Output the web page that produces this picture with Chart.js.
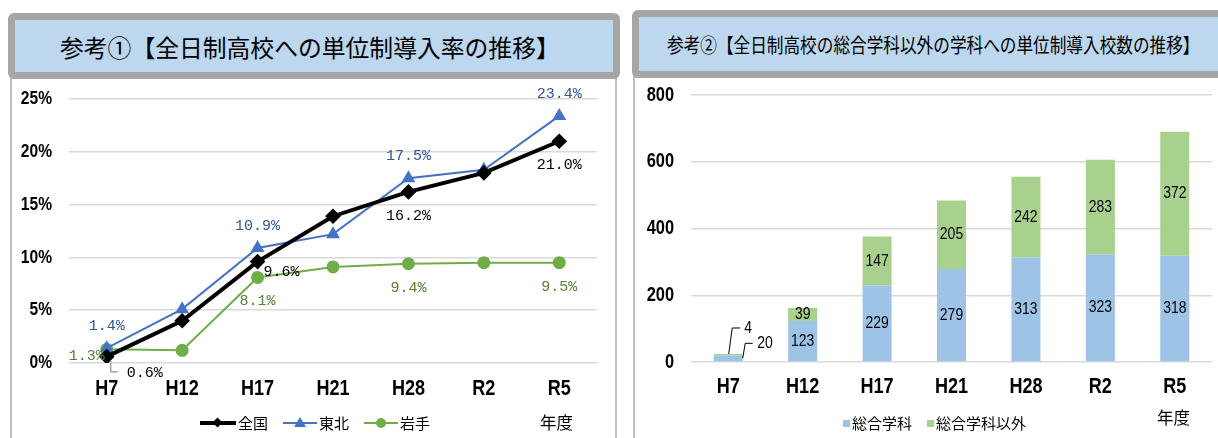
<!DOCTYPE html>
<html lang="ja">
<head>
<meta charset="utf-8">
<title>単位制導入の推移</title>
<script src="https://cdn.jsdelivr.net/npm/chart.js@4/dist/chart.umd.min.js"></script>
<style>
  body { margin: 0; width: 1218px; height: 438px; overflow: hidden; background: #fff; font-family: 'Noto Sans CJK JP', sans-serif; }
  .frame { position: absolute; background: #bdd7ee; border: 7px solid #a6a6a6; border-radius: 6px; box-sizing: border-box; }
  .title { position: absolute; white-space: nowrap; color: #000; }
  .box { position: absolute; border: 2px solid #bfbfbf; border-bottom: none; box-sizing: border-box; }
  .chart-wrap { position: absolute; }
  .lg { position: absolute; font-size: 15px; line-height: 18px; white-space: nowrap; }
  .lg-line { position: absolute; }
  .lg-mark { position: absolute; }
</style>
</head>
<body>

<div class="box" style="left:10px; top:76px; width:607px; height:370px;"></div>
<div class="box" style="left:633px; top:76px; width:600px; height:370px;"></div>

<div class="frame" style="left:8px; top:13px; width:612px; height:66px;"></div>
<div class="title" style="left:60px; top:31px; font-size:23.8px; line-height:32px;">参考①【全日制高校への単位制導入率の推移】</div>

<div class="frame" style="left:632px; top:10px; width:600px; height:68px;"></div>
<div class="title" style="left:667px; top:31px; font-size:20px; line-height:28px; transform:scaleX(0.832); transform-origin:left center;">参考②【全日制高校の総合学科以外の学科への単位制導入校数の推移】</div>

<div class="chart-wrap" style="left:12px; top:80px; width:603px; height:358px;"><canvas id="rateChart"></canvas></div>
<div class="chart-wrap" style="left:635px; top:80px; width:583px; height:358px;"><canvas id="countChart"></canvas></div>

<!-- legend, left chart -->
<div class="lg-line" style="left:200px; top:421px; width:36px; height:4px; background:#000;"></div>
<div class="lg-mark" style="left:214px; top:419px; width:7px; height:7px; background:#000; transform:rotate(45deg);"></div>
<div class="lg" style="left:238px; top:414px;">全国</div>
<div class="lg-line" style="left:283px; top:422px; width:34px; height:2px; background:#4472c4;"></div>
<div class="lg-mark" style="left:294px; top:417px; width:0; height:0; border-left:6px solid transparent; border-right:6px solid transparent; border-bottom:10px solid #4472c4;"></div>
<div class="lg" style="left:319px; top:414px;">東北</div>
<div class="lg-line" style="left:364px; top:422px; width:34px; height:2px; background:#70ad47;"></div>
<div class="lg-mark" style="left:376px; top:418px; width:10px; height:10px; border-radius:50%; background:#70ad47;"></div>
<div class="lg" style="left:400px; top:414px;">岩手</div>
<div class="lg" style="left:540px; top:413px; font-size:16.5px;">年度</div>

<!-- legend, right chart -->
<div class="lg-mark" style="left:843px; top:420px; width:7px; height:7px; background:#9dc3e6;"></div>
<div class="lg" style="left:852px; top:414px;">総合学科</div>
<div class="lg-mark" style="left:927px; top:420px; width:7px; height:7px; background:#a9d18e;"></div>
<div class="lg" style="left:936px; top:414px;">総合学科以外</div>
<div class="lg" style="left:1157px; top:408px; font-size:16.5px;">年度</div>

<script>
// 年度
const years = ['H7', 'H12', 'H17', 'H21', 'H28', 'R2', 'R5'];

// 単位制導入率（%）
const zenkoku = [0.6, 4.0, 9.6, 13.9, 16.2, 18.0, 21.0];
const tohoku = [1.4, 5.1, 10.9, 12.2, 17.5, 18.3, 23.4];
const iwate = [1.3, 1.2, 8.1, 9.1, 9.4, 9.5, 9.5];
const rateTicks = [0, 5, 10, 15, 20, 25];

// 導入校数
const sogo = [20, 123, 229, 279, 313, 323, 318];
const sogoIgai = [4, 39, 147, 205, 242, 283, 372];
const countTicks = [0, 200, 400, 600, 800];

const baseFont = "'Liberation Sans', Arial, sans-serif";
const narrow = 0.82; // no narrow face installed, so squeeze Arial-metric text
const gridColor = '#d9d9d9';

function narrowText(ctx, text, x, y) {
    ctx.save();
    ctx.translate(x, y);
    ctx.scale(narrow, 1);
    ctx.fillText(text, 0, 0);
    ctx.restore();
}

// axis labels drawn by hand so they can be condensed
function narrowTicks(opts) {
    return {
        id: 'narrowTicks',
        beforeDatasetsDraw(chart) {
            const ctx = chart.ctx;
            const area = chart.chartArea;
            const xs = chart.scales.x;
            const ys = chart.scales.y;
            ctx.save();
            ctx.fillStyle = '#000';
            ctx.textBaseline = 'middle';
            ctx.font = 'bold ' + opts.xSize + 'px ' + baseFont;
            ctx.textAlign = 'center';
            chart.data.labels.forEach((lab, i) => {
                narrowText(ctx, lab, xs.getPixelForTick(i), area.bottom + opts.xOffset);
            });
            ctx.font = 'bold ' + opts.ySize + 'px ' + baseFont;
            ctx.textAlign = 'right';
            ys.ticks.forEach(t => {
                narrowText(ctx, opts.yFormat(t.value), area.left - opts.yPad, ys.getPixelForValue(t.value));
            });
            ctx.restore();
        }
    };
}

// which points get a value label, and where
const lineLabelPos = [
    { 0: 'leader', 2: 'right', 4: 'below', 6: 'below' },
    { 0: 'above', 2: 'above', 4: 'above', 6: 'above' },
    { 0: 'left', 2: 'below', 4: 'below', 6: 'below' }
];
const labelOffset = {
    above: [0, -22], below: [0, 24], right: [24, 10], left: [-20, 7], leader: [38, 16]
};
const lineLabelColors = ['#000000', '#2f5597', '#548235'];

const lineLabels = {
    id: 'lineLabels',
    afterDatasetsDraw(chart) {
        const ctx = chart.ctx;
        ctx.save();
        ctx.font = "15px 'Liberation Mono', 'DejaVu Sans Mono', monospace";
        ctx.textAlign = 'center';
        ctx.textBaseline = 'middle';
        chart.data.datasets.forEach((ds, i) => {
            const meta = chart.getDatasetMeta(i);
            Object.entries(lineLabelPos[i]).forEach(([idx, pos]) => {
                const pt = meta.data[idx];
                const [dx, dy] = labelOffset[pos];
                if (pos === 'leader') {
                    ctx.strokeStyle = '#a6a6a6';
                    ctx.lineWidth = 1.5;
                    ctx.beginPath();
                    ctx.moveTo(pt.x + 4, pt.y + 4);
                    ctx.lineTo(pt.x + 4, pt.y + 15);
                    ctx.lineTo(pt.x + 11, pt.y + 15);
                    ctx.stroke();
                }
                ctx.fillStyle = lineLabelColors[i];
                ctx.fillText(ds.data[idx].toFixed(1) + '%', pt.x + dx, pt.y + dy);
            });
        });
        ctx.restore();
    }
};

new Chart(document.getElementById('rateChart').getContext('2d'), {
    type: 'line',
    data: {
        labels: years,
        datasets: [{
            label: '全国',
            data: zenkoku,
            borderColor: '#000000',
            backgroundColor: '#000000',
            borderWidth: 4,
            pointStyle: 'rectRot',
            pointRadius: 5,
            order: 0
        }, {
            label: '東北',
            data: tohoku,
            borderColor: '#4472c4',
            backgroundColor: '#4472c4',
            borderWidth: 2,
            pointStyle: 'triangle',
            pointRadius: 6,
            order: 1
        }, {
            label: '岩手',
            data: iwate,
            borderColor: '#70ad47',
            backgroundColor: '#70ad47',
            borderWidth: 2,
            pointStyle: 'circle',
            pointRadius: 5.5,
            order: 2
        }]
    },
    options: {
        responsive: true,
        maintainAspectRatio: false,
        animation: false,
        layout: { padding: { top: 19, right: 18, left: 0, bottom: 0 } },
        plugins: { legend: { display: false }, tooltip: { enabled: false } },
        scales: {
            x: {
                offset: true,
                grid: { display: false },
                border: { display: false },
                ticks: { display: false },
                afterFit: s => { s.height = 75; }
            },
            y: {
                min: 0,
                max: 25,
                afterBuildTicks: s => { s.ticks = rateTicks.map(v => ({ value: v })); },
                grid: { color: gridColor, lineWidth: 1.5, drawTicks: false },
                border: { display: false },
                ticks: { display: false },
                afterFit: s => { s.width = 57; }
            }
        }
    },
    plugins: [lineLabels, narrowTicks({ xSize: 22, xOffset: 26, ySize: 19, yPad: 17, yFormat: v => v + '%' })]
});

// H7 is too short for inside labels, so it gets leader lines
const barLeaders = [
    { from: [14.5, 3], elbow: [17, -12], to: [24.5, -12], text: [29, -12] },
    { from: [0.5, 0], elbow: [4, -26], to: [12, -26], text: [16, -26] }
];

const barLabels = {
    id: 'barLabels',
    afterDatasetsDraw(chart) {
        const ctx = chart.ctx;
        ctx.save();
        ctx.font = '17px ' + baseFont;
        ctx.fillStyle = '#000';
        ctx.textBaseline = 'middle';
        chart.data.datasets.forEach((ds, i) => {
            const meta = chart.getDatasetMeta(i);
            meta.data.forEach((bar, idx) => {
                const v = ds.data[idx];
                if (idx === 0) {
                    const l = barLeaders[i];
                    ctx.strokeStyle = '#000';
                    ctx.lineWidth = 1;
                    ctx.beginPath();
                    ctx.moveTo(bar.x + l.from[0], bar.y + l.from[1]);
                    ctx.lineTo(bar.x + l.elbow[0], bar.y + l.elbow[1]);
                    ctx.lineTo(bar.x + l.to[0], bar.y + l.to[1]);
                    ctx.stroke();
                    ctx.textAlign = 'left';
                    narrowText(ctx, String(v), bar.x + l.text[0], bar.y + l.text[1]);
                } else {
                    ctx.textAlign = 'center';
                    narrowText(ctx, String(v), bar.x, (bar.y + bar.base) / 2);
                }
            });
        });
        ctx.restore();
    }
};

new Chart(document.getElementById('countChart').getContext('2d'), {
    type: 'bar',
    data: {
        labels: years,
        datasets: [{
            label: '総合学科',
            data: sogo,
            backgroundColor: '#9dc3e6',
            categoryPercentage: 1,
            barPercentage: 0.39
        }, {
            label: '総合学科以外',
            data: sogoIgai,
            backgroundColor: '#a9d18e',
            categoryPercentage: 1,
            barPercentage: 0.39
        }]
    },
    options: {
        responsive: true,
        maintainAspectRatio: false,
        animation: false,
        layout: { padding: { top: 15, right: 6, left: 0, bottom: 0 } },
        plugins: { legend: { display: false }, tooltip: { enabled: false } },
        scales: {
            x: {
                stacked: true,
                grid: { display: false },
                border: { display: false },
                ticks: { display: false },
                afterFit: s => { s.height = 76; }
            },
            y: {
                stacked: true,
                min: 0,
                max: 800,
                afterBuildTicks: s => { s.ticks = countTicks.map(v => ({ value: v })); },
                grid: { color: gridColor, lineWidth: 1.5, drawTicks: false },
                border: { display: false },
                ticks: { display: false },
                afterFit: s => { s.width = 56; }
            }
        }
    },
    plugins: [barLabels, narrowTicks({ xSize: 22, xOffset: 24.5, ySize: 20, yPad: 17, yFormat: v => String(v) })]
});
</script>
</body>
</html>
